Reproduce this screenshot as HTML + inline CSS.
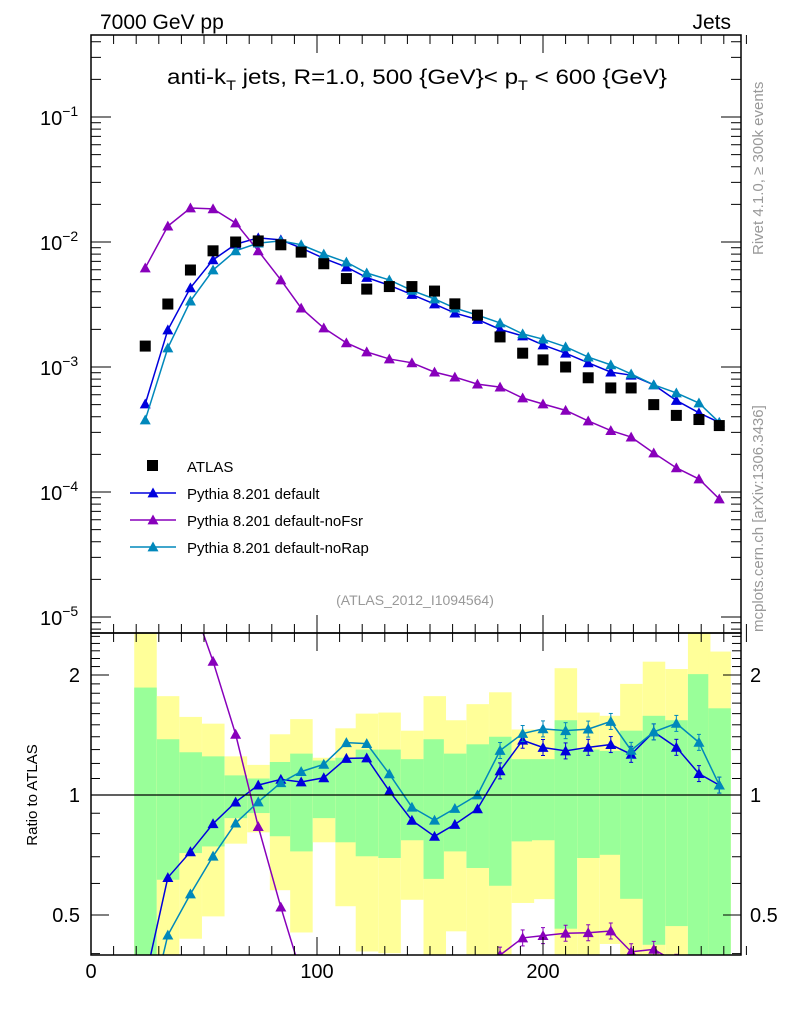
<!DOCTYPE html>
<html><head><meta charset="utf-8">
<style>
html,body{margin:0;padding:0;background:#fff;}
svg{display:block;font-family:"Liberation Sans",sans-serif;}
</style></head>
<body>
<svg id="chart" width="786" height="1024" viewBox="0 0 786 1024" xmlns="http://www.w3.org/2000/svg">
<defs>
<clipPath id="clipMain"><rect x="91" y="35" width="650" height="598"/></clipPath>
<clipPath id="clipRatio"><rect x="91" y="633" width="650" height="322"/></clipPath>
</defs>
<g id="ratioBands" clip-path="url(#clipRatio)"></g>
<g id="mainMarks" clip-path="url(#clipMain)"></g>
<g id="ratioMarks" clip-path="url(#clipRatio)"></g>
<g id="axes"></g>
<text x="100" y="29" font-size="21">7000 GeV pp</text>
<text x="731" y="29" font-size="21" text-anchor="end">Jets</text>
<text x="417" y="84" font-size="21" text-anchor="middle" textLength="500" lengthAdjust="spacingAndGlyphs">anti-k<tspan font-size="14" dy="6">T</tspan><tspan dy="-6"> jets, R=1.0, 500 {GeV}&lt; p</tspan><tspan font-size="14" dy="6">T</tspan><tspan dy="-6"> &lt; 600 {GeV}</tspan></text>
<text x="415" y="605" font-size="14" fill="#999" text-anchor="middle">(ATLAS_2012_I1094564)</text>
<text transform="translate(763,255) rotate(-90)" font-size="15" fill="#999">Rivet 4.1.0, ≥ 300k events</text>
<text transform="translate(763,632) rotate(-90)" font-size="15" fill="#999">mcplots.cern.ch [arXiv:1306.3436]</text>
<text transform="translate(37,795) rotate(-90)" font-size="15" text-anchor="middle">Ratio to ATLAS</text>
<g id="legend"></g>
</svg>
<script>
const xCenters=[24,34,44,54,64,74,84,93,103,113,122,132,142,152,161,171,181,191,200,210,220,230,239,249,259,269,278];
const atlas=[1.47e-3,3.19e-3,5.97e-3,8.5e-3,1.0e-2,1.02e-2,9.5e-3,8.3e-3,6.7e-3,5.1e-3,4.2e-3,4.4e-3,4.4e-3,4.05e-3,3.2e-3,2.6e-3,1.74e-3,1.29e-3,1.14e-3,1.0e-3,8.2e-4,6.8e-4,6.8e-4,5.0e-4,4.1e-4,3.8e-4,3.4e-4];
const pyDefault=[5.06e-4,1.98e-3,4.3e-3,7.2e-3,9.6e-3,1.08e-2,1.04e-2,8.95e-3,7.4e-3,6.3e-3,5.2e-3,4.5e-3,3.8e-3,3.19e-3,2.7e-3,2.4e-3,2.0e-3,1.77e-3,1.5e-3,1.29e-3,1.08e-3,9.1e-4,8.6e-4,7.2e-4,5.4e-4,4.3e-4,3.6e-4];
const pyNoFsr=[6.2e-3,1.34e-2,1.87e-2,1.84e-2,1.42e-2,8.5e-3,4.97e-3,2.96e-3,2.05e-3,1.56e-3,1.32e-3,1.16e-3,1.08e-3,9.1e-4,8.3e-4,7.3e-4,6.9e-4,5.65e-4,5.06e-4,4.5e-4,3.7e-4,3.1e-4,2.75e-4,2.05e-4,1.56e-4,1.27e-4,8.8e-5];
const pyNoRap=[3.77e-4,1.42e-3,3.37e-3,5.97e-3,8.5e-3,9.8e-3,1.02e-2,9.5e-3,8.0e-3,6.9e-3,5.65e-3,4.97e-3,4.1e-3,3.5e-3,2.96e-3,2.6e-3,2.25e-3,1.84e-3,1.67e-3,1.45e-3,1.2e-3,1.04e-3,8.8e-4,7.2e-4,6.2e-4,5.15e-4,3.6e-4];
const yellowHi=[3,1.77,1.57,1.51,1.25,1.19,1.42,1.55,1.24,1.47,1.60,1.61,1.45,1.77,1.54,1.69,1.81,1.46,1.46,2.08,1.61,1.58,1.90,2.16,2.07,3,2.29];
const greenHi=[1.86,1.38,1.28,1.25,1.12,1.10,1.21,1.27,1.22,1.24,1.30,1.30,1.23,1.38,1.27,1.34,1.40,1.23,1.23,1.54,1.30,1.29,1.45,1.58,1.54,2.01,1.65];
const greenLo=[0.3,0.613,0.715,0.743,0.875,0.901,0.788,0.722,0.875,0.761,0.702,0.695,0.770,0.616,0.722,0.656,0.592,0.765,0.770,0.462,0.695,0.708,0.549,0.421,0.469,0.3,0.3];
const yellowLo=[0.3,0.3,0.436,0.496,0.755,0.806,0.577,0.452,0.761,0.526,0.405,0.401,0.546,0.3,0.455,0.3,0.3,0.536,0.548,0.3,0.3,0.423,0.3,0.3,0.3,0.3,0.3];
const xTickLabels=["0","100","200"];
const yTickExps=["-1","-2","-3","-4","-5"];
const ratioTickLabels=["0.5","1","2"];

const NS="http://www.w3.org/2000/svg";
const X0=91,X1=741,MT=35,MB=633,RB=955;
function sx(v){return X0+v*2.26;}
function sy(v){return 242-125*Math.log10(v/0.01);}
function ry(r){return 795-120*Math.log2(r);}
const binHalf=4.87;
function mk(parent,tag,attrs){const e=document.createElementNS(NS,tag);for(const k in attrs)e.setAttribute(k,attrs[k]);parent.appendChild(e);return e;}

const bands=document.getElementById('ratioBands');
for(let i=0;i<xCenters.length;i++){
  const xl=sx(xCenters[i]-binHalf),xr=sx(xCenters[i]+binHalf);
  let t=ry(yellowHi[i]),b=ry(yellowLo[i]);
  const yb=mk(bands,'rect',{x:xl,y:t,width:xr-xl+0.5,height:b-t,fill:'#ffff99'});
  
  
  t=ry(greenHi[i]);b=ry(greenLo[i]);
  const gb=mk(bands,'rect',{x:xl,y:t,width:xr-xl+0.5,height:b-t,fill:'#99ff99'});
  
  
}

const ax=document.getElementById('axes');
mk(ax,'rect',{x:X0,y:MT,width:X1-X0,height:MB-MT,fill:'none',stroke:'#000','stroke-width':1.5});
mk(ax,'rect',{x:X0,y:MB,width:X1-X0,height:RB-MB,fill:'none',stroke:'#000','stroke-width':1.5});
const one=mk(ax,'line',{x1:X0,x2:X1,y1:ry(1),y2:ry(1),stroke:'#000','stroke-width':1.2});


for(let v=0;v<=290;v+=10){
  const x=sx(v),major=(v%100===0);const L=major?18:9;
  mk(ax,'line',{x1:x,x2:x,y1:MB,y2:MB-L,stroke:'#000'});
  mk(ax,'line',{x1:x,x2:x,y1:MT,y2:MT+L,stroke:'#000'});
  mk(ax,'line',{x1:x,x2:x,y1:RB,y2:RB-L,stroke:'#000'});
  mk(ax,'line',{x1:x,x2:x,y1:MB,y2:MB+L,stroke:'#000'});
}
xTickLabels.forEach(s=>{const t=mk(ax,'text',{x:sx(+s),y:978,'font-size':20,'text-anchor':'middle'});t.textContent=s;

});
for(let e=-6;e<=0;e++){for(let m=1;m<=9;m++){const v=m*Math.pow(10,e);const y=sy(v);if(y<MT||y>MB)continue;const L=m===1?20:10;
  mk(ax,'line',{x1:X0,x2:X0+L,y1:y,y2:y,stroke:'#000'});mk(ax,'line',{x1:X1,x2:X1-L,y1:y,y2:y,stroke:'#000'});}}
yTickExps.forEach(s=>{const y=sy(Math.pow(10,+s));const t=mk(ax,'text',{x:40,y:y+8,'font-size':20});
  t.appendChild(document.createTextNode('10'));
  const ts=mk(t,'tspan',{'font-size':14,dy:-9});ts.textContent=s.replace('-','\u2212');
  
  });
for(let k=4;k<=25;k++){const rr=k/10;const y=ry(rr);if(y<MB||y>RB)continue;const major=(k===5||k===10||k===20);const L=major?18:9;
  mk(ax,'line',{x1:X0,x2:X0+L,y1:y,y2:y,stroke:'#000'});mk(ax,'line',{x1:X1,x2:X1-L,y1:y,y2:y,stroke:'#000'});}
ratioTickLabels.forEach(s=>{const y=ry(+s)+7;
  const t=mk(ax,'text',{x:80,y:y,'font-size':20,'text-anchor':'end'});t.textContent=s;
  
  
  const t2=mk(ax,'text',{x:750,y:y,'font-size':20});t2.textContent=s;
  
  });

function tri(g,x,y,c,s){return mk(g,'polygon',{points:`${x},${y-s} ${x-s},${y+s*0.8} ${x+s},${y+s*0.8}`,fill:c});}
const mm=document.getElementById('mainMarks'),rm=document.getElementById('ratioMarks');
const series=[[pyDefault,'#0000dd','pythia-default'],[pyNoFsr,'#8800bb','pythia-nofsr'],[pyNoRap,'#0088bb','pythia-norap']];
series.forEach(([d,c,n])=>{
  const pl=mk(mm,'polyline',{points:d.map((v,i)=>sx(xCenters[i])+','+sy(v)).join(' '),fill:'none',stroke:c,'stroke-width':1.5});
  
  
  d.forEach((v,i)=>{const p=tri(mm,sx(xCenters[i]),sy(v),c,5.5);
    
    });
  const pr=mk(rm,'polyline',{points:d.map((v,i)=>sx(xCenters[i])+','+ry(v/atlas[i])).join(' '),fill:'none',stroke:c,'stroke-width':1.5});
  
  
  d.forEach((v,i)=>{const y=ry(v/atlas[i]);const x=sx(xCenters[i]);
    if(xCenters[i]>180){mk(rm,'line',{x1:x,x2:x,y1:y-8,y2:y+8,stroke:c});mk(rm,'line',{x1:x-2,x2:x+2,y1:y-8,y2:y-8,stroke:c});mk(rm,'line',{x1:x-2,x2:x+2,y1:y+8,y2:y+8,stroke:c});}
    const p=tri(rm,x,y,c,5.5);
    
    });
});
atlas.forEach((v,i)=>{const r=mk(mm,'rect',{x:sx(xCenters[i])-5.5,y:sy(v)-5.5,width:11,height:11,fill:'#000'});
  
  });

const lg=document.getElementById('legend');
const entries=[['ATLAS','#000','sq'],['Pythia 8.201 default','#0000dd','tri'],['Pythia 8.201 default-noFsr','#8800bb','tri'],['Pythia 8.201 default-noRap','#0088bb','tri']];
entries.forEach(([lab,c,t],i)=>{const y=466+i*27;const g=mk(lg,'g',{});
  
  
  if(t==='sq'){mk(g,'rect',{x:147,y:y-6,width:11,height:11,fill:'#000'});}
  else{mk(g,'line',{x1:130,x2:176,y1:y,y2:y,stroke:c,'stroke-width':1.5});tri(g,153,y,c,5.5);}
  const tx=mk(g,'text',{x:187,y:y+6,'font-size':15});tx.textContent=lab;});
</script>
</body></html>
